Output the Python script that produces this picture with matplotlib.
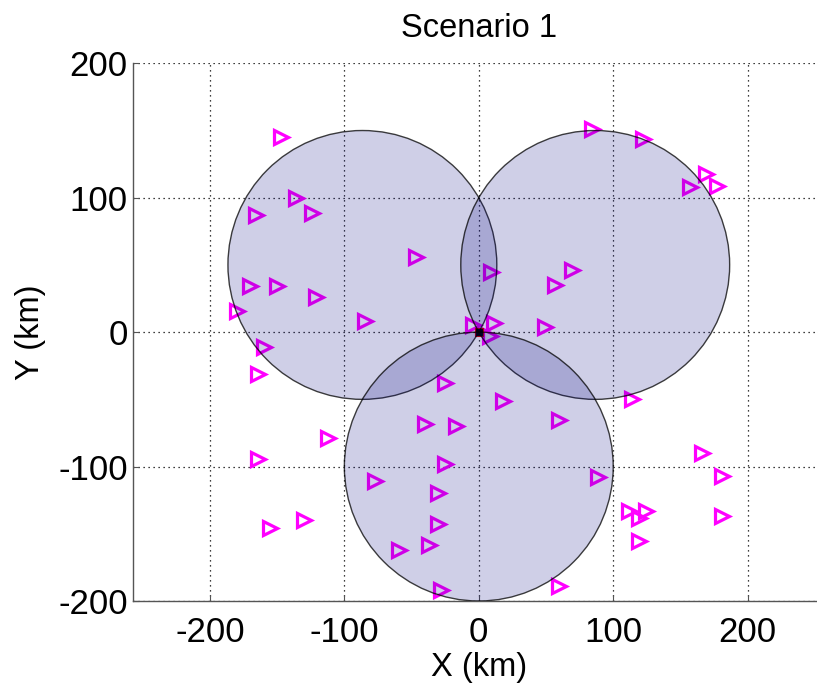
import matplotlib
matplotlib.use("Agg")
import matplotlib.pyplot as plt
from matplotlib.patches import Circle

plt.rcParams['font.family'] = ['Liberation Sans', 'DejaVu Sans']

# Receiver positions (km)
rx_x = [-147, -136, -124, -166, -47, -170, -150, -121, -180, -85, -4,
        84, 122, 169, 177, 157, 69, 9, 57, 49, 11,
        -160, -164, -25, -40, -17, -112, -164, -25, -77, -30, -30, -130,
        -155, -37, -59, -28,
        18, 60, 114, 166, 181, 89, 112, 124, 119, 181, 119, 60, 8]
rx_y = [145, 100, 89, 87, 56, 34, 34, 26, 16, 8, 5,
        151, 144, 118, 109, 108, 46, 45, 35, 4, 7,
        -11, -31, -38, -68, -70, -79, -94, -98, -111, -120, -143, -140,
        -146, -158, -162, -192,
        -51, -65, -50, -90, -107, -108, -133, -133, -138, -137, -155, -189, -3]

# Coverage cells: centres and radius (km)
cell_x = [-86.6, 86.6, 0.0]
cell_y = [50.0, 50.0, -100.0]
cell_r = [100.0, 100.0, 100.0]

# Transmitter at the origin
tx_x = [0.0]
tx_y = [0.0]

fig = plt.figure(figsize=(8.17, 6.92), dpi=100)
ax = fig.add_axes([133.3 / 817, 91 / 692, 691 / 817, 537.7 / 692])

ax.plot(rx_x, rx_y, linestyle='none', marker='>', markersize=9.5,
        markerfacecolor='none', markeredgecolor='#ff00ff', markeredgewidth=2.3,
        zorder=2)
ax.plot(tx_x, tx_y, linestyle='none', marker='s', markersize=6,
        markerfacecolor='black', markeredgecolor='#cc0000', markeredgewidth=0.8,
        zorder=2)

for cx, cy, r in zip(cell_x, cell_y, cell_r):
    ax.add_patch(Circle((cx, cy), r, facecolor=(0, 0, 0.5, 0.19),
                        edgecolor=(0, 0, 0, 0.75), linewidth=1.0, zorder=3))

ax.set_xlim(-257, 257)
ax.set_ylim(-200, 200)
ax.set_xticks([-200, -100, 0, 100, 200])
ax.set_yticks([-200, -100, 0, 100, 200])
ax.set_xticklabels(['-200', '-100', '0', '100', '200'])
ax.set_yticklabels(['-200', '-100', '0', '100', '200'])

ax.grid(True, color='black', linestyle=(0, (1, 3)), linewidth=0.9)
ax.set_axisbelow(True)

for side in ('top', 'right'):
    ax.spines[side].set_visible(False)
for side in ('left', 'bottom'):
    ax.spines[side].set_color('#555555')
    ax.spines[side].set_linewidth(1.0)

ax.tick_params(axis='both', direction='in', length=4, width=0.8,
               color='#555555', labelsize=25)
ax.tick_params(axis='x', pad=11)
ax.tick_params(axis='y', pad=4)

ax.set_title('Scenario 1', fontsize=23.5, pad=19)
ax.set_xlabel('X (km)', fontsize=23.5, labelpad=2)
ax.set_ylabel('Y (km)', fontsize=23.5, labelpad=9)

fig.savefig('out.png', dpi=100)
